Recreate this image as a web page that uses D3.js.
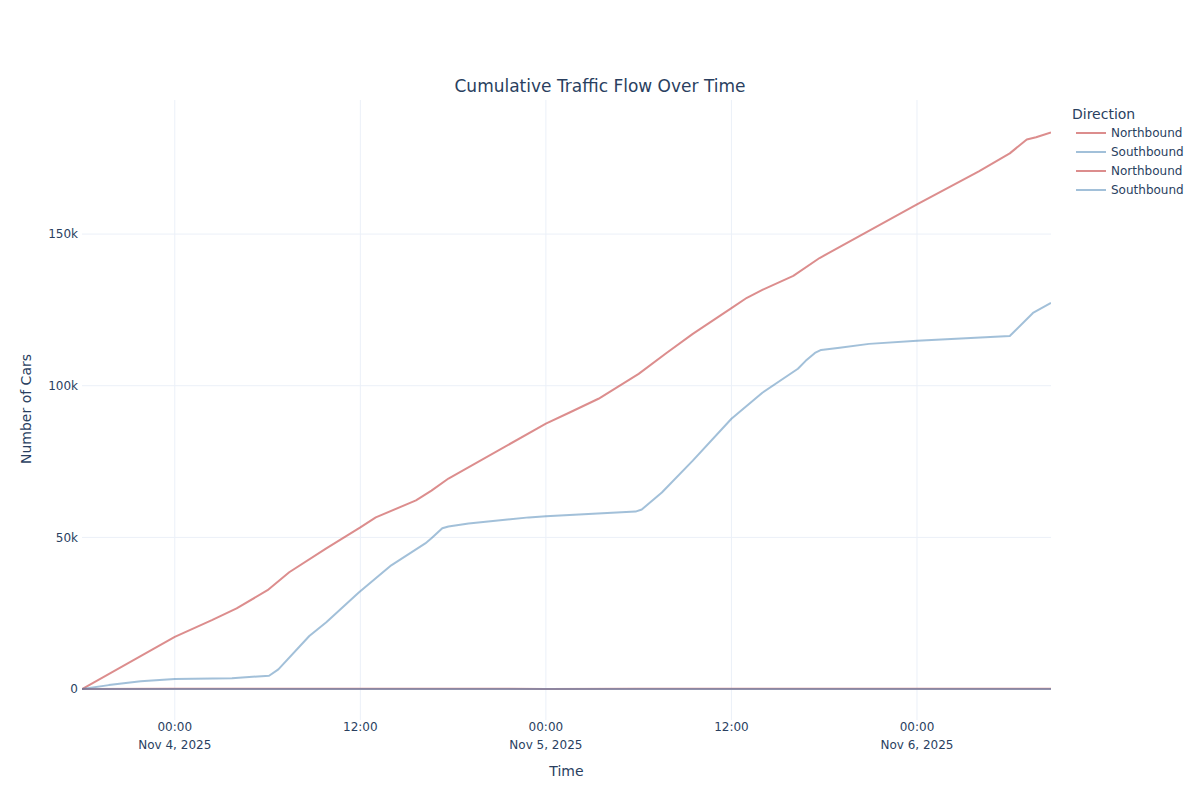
<!DOCTYPE html>
<html>
<head>
<meta charset="utf-8">
<script src="https://cdn.jsdelivr.net/npm/d3@7"></script>
<style>
  html, body { margin: 0; padding: 0; background: #fff; }
  svg { display: block; font-family: "DejaVu Sans", Verdana, sans-serif; }
</style>
</head>
<body>
<svg id="chart" width="1200" height="800"></svg>
<script>
// ---- Data ----
const northTimes = ["2025-11-03T18:00","2025-11-04T00:00","2025-11-04T02:24","2025-11-04T04:00","2025-11-04T06:00","2025-11-04T07:24","2025-11-04T09:48","2025-11-04T12:00","2025-11-04T13:00","2025-11-04T15:36","2025-11-04T16:36","2025-11-04T17:42","2025-11-05T00:00","2025-11-05T01:30","2025-11-05T03:24","2025-11-05T06:00","2025-11-05T07:48","2025-11-05T09:30","2025-11-05T12:00","2025-11-05T13:00","2025-11-05T14:00","2025-11-05T16:00","2025-11-05T17:42","2025-11-06T00:00","2025-11-06T04:00","2025-11-06T06:00","2025-11-06T07:06","2025-11-06T07:42","2025-11-06T08:40"];
const northValues = [0,17200,22700,26600,32600,38500,46400,53300,56600,62200,65400,69400,87500,91100,95700,103900,110800,117100,125600,129000,131600,136200,142100,159800,170700,176600,181200,181900,183500];

const southTimes = ["2025-11-03T18:00","2025-11-03T19:44","2025-11-03T21:48","2025-11-04T00:00","2025-11-04T03:42","2025-11-04T06:06","2025-11-04T06:42","2025-11-04T08:42","2025-11-04T09:48","2025-11-04T11:54","2025-11-04T14:00","2025-11-04T16:12","2025-11-04T16:36","2025-11-04T17:18","2025-11-04T17:42","2025-11-04T19:00","2025-11-04T22:54","2025-11-05T00:00","2025-11-05T05:48","2025-11-05T06:12","2025-11-05T07:30","2025-11-05T09:30","2025-11-05T12:00","2025-11-05T14:00","2025-11-05T16:18","2025-11-05T16:48","2025-11-05T17:24","2025-11-05T17:48","2025-11-05T19:00","2025-11-05T20:54","2025-11-06T00:00","2025-11-06T06:00","2025-11-06T07:30","2025-11-06T08:40"];
const southValues = [0,1300,2600,3300,3600,4400,6500,17500,22000,31800,40800,48000,49700,53000,53600,54600,56600,57000,58500,59200,64800,75300,89100,97700,105600,108200,110800,111800,112500,113800,114800,116400,124000,127300];

// second pair of traces (near zero)
const intervalTimes = ["2025-11-03T18:00","2025-11-04T00:00","2025-11-04T06:00","2025-11-04T12:00","2025-11-04T18:00","2025-11-05T00:00","2025-11-05T06:00","2025-11-05T12:00","2025-11-05T18:00","2025-11-06T00:00","2025-11-06T06:00","2025-11-06T08:40"];
const northIntervalValues = [0,90,70,100,80,60,90,100,90,70,100,80];
const southIntervalValues = [0,20,15,60,50,10,15,60,45,10,15,50];

const yTickValues = [0, 50000, 100000, 150000];
const yTickLabels = ["0", "50k", "100k", "150k"];
const yRange = [-10200, 194200];

const seriesNames = ["Northbound", "Southbound", "Northbound", "Southbound"];
const seriesColors = ["rgba(205,92,92,0.7)", "rgba(70,130,180,0.5)", "rgba(205,92,92,0.7)", "rgba(70,130,180,0.5)"];

// ---- Layout ----
const textColor = "#2a3f5f";
const gridColor = "#ebf0f8";
const plot = { left: 82, right: 1051, top: 100, bottom: 720 };

const parse = d3.timeParse("%Y-%m-%dT%H:%M");
const mk = (ts, vs) => ts.map((t, i) => ({ t: parse(t), v: vs[i] }));
const series = [
  mk(northTimes, northValues),
  mk(southTimes, southValues),
  mk(intervalTimes, northIntervalValues),
  mk(intervalTimes, southIntervalValues)
];

const allTimes = series.flat().map(d => d.t);
const x = d3.scaleTime().domain(d3.extent(allTimes)).range([plot.left, plot.right]);
const y = d3.scaleLinear().domain(yRange).range([plot.bottom, plot.top]);

const svg = d3.select("#chart");

// gridlines
const xTicks = x.ticks(d3.timeHour.every(12));
svg.append("g").selectAll("line").data(xTicks).join("line")
  .attr("x1", d => x(d)).attr("x2", d => x(d))
  .attr("y1", plot.top).attr("y2", plot.bottom)
  .attr("stroke", gridColor).attr("stroke-width", 1);
svg.append("g").selectAll("line").data(yTickValues.filter(v => v !== 0)).join("line")
  .attr("x1", plot.left).attr("x2", plot.right)
  .attr("y1", d => y(d)).attr("y2", d => y(d))
  .attr("stroke", gridColor).attr("stroke-width", 1);
// zero line
svg.append("line")
  .attr("x1", plot.left).attr("x2", plot.right)
  .attr("y1", y(0)).attr("y2", y(0))
  .attr("stroke", gridColor).attr("stroke-width", 2);

// y axis labels
svg.append("g").selectAll("text").data(yTickValues).join("text")
  .attr("x", plot.left - 4).attr("y", d => y(d)).attr("dy", "0.35em")
  .attr("text-anchor", "end").attr("font-size", 12).attr("fill", textColor)
  .text((d, i) => yTickLabels[i]);

// x axis labels
const fmtTime = d3.timeFormat("%H:%M");
const fmtDate = d3.timeFormat("%b %-d, %Y");
const xl = svg.append("g").selectAll("text").data(xTicks).join("text")
  .attr("text-anchor", "middle").attr("font-size", 12).attr("fill", textColor);
xl.append("tspan").attr("x", d => x(d)).attr("y", 731).text(d => fmtTime(d));
xl.filter(d => d.getHours() === 0).append("tspan")
  .attr("x", d => x(d)).attr("y", 749).text(d => fmtDate(d));

// lines
const line = d3.line().x(d => x(d.t)).y(d => y(d.v));
svg.append("defs").append("clipPath").attr("id", "clip")
  .append("rect").attr("x", plot.left).attr("y", plot.top)
  .attr("width", plot.right - plot.left).attr("height", plot.bottom - plot.top);
const lg = svg.append("g").attr("clip-path", "url(#clip)");
series.forEach((s, i) => {
  lg.append("path").datum(s).attr("d", line)
    .attr("fill", "none").attr("stroke", seriesColors[i])
    .attr("stroke-width", 2).attr("stroke-linejoin", "round");
});

// title
svg.append("text").attr("x", 600).attr("y", 92).attr("text-anchor", "middle")
  .attr("font-size", 17).attr("fill", textColor).text("Cumulative Traffic Flow Over Time");

// axis titles
svg.append("text").attr("x", (plot.left + plot.right) / 2).attr("y", 776)
  .attr("text-anchor", "middle").attr("font-size", 14).attr("fill", textColor).text("Time");
svg.append("text").attr("transform", "translate(31,409) rotate(-90)")
  .attr("text-anchor", "middle").attr("font-size", 14).attr("fill", textColor).text("Number of Cars");

// legend
const legend = svg.append("g");
legend.append("text").attr("x", 1072).attr("y", 119).attr("font-size", 14)
  .attr("fill", textColor).text("Direction");
const items = legend.selectAll("g.item").data(seriesNames).join("g").attr("class", "item")
  .attr("transform", (d, i) => `translate(0,${133 + i * 19})`);
items.append("line").attr("x1", 1076).attr("x2", 1106).attr("y1", 0).attr("y2", 0)
  .attr("stroke", (d, i) => seriesColors[i]).attr("stroke-width", 2);
items.append("text").attr("x", 1111).attr("y", 0).attr("dy", "0.35em")
  .attr("font-size", 12).attr("fill", textColor).text(d => d);
</script>
</body>
</html>
